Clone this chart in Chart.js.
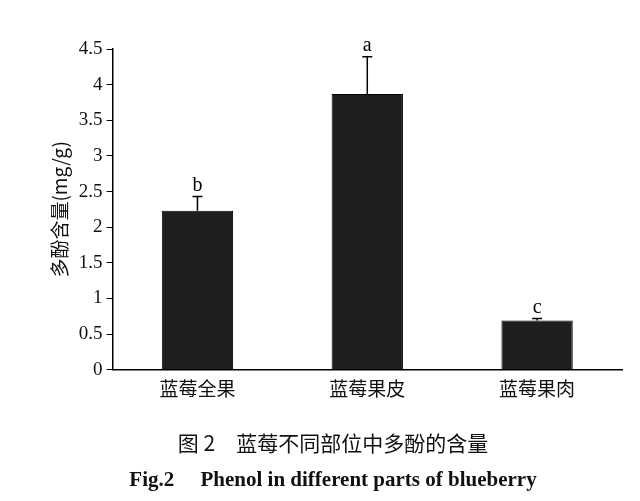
<!DOCTYPE html>
<html><head><meta charset="utf-8">
<script src="https://cdn.jsdelivr.net/npm/chart.js@4"></script>
<style>html,body{margin:0;background:#fff;}#w{width:640px;height:501px;}</style>
</head><body><div id="w"><canvas id="c"></canvas></div>
<script>
const categories=["蓝莓全果","蓝莓果皮","蓝莓果肉"];
const values=[2.23,3.87,0.69];
const errors=[0.2,0.52,0.03];
const letters=["b","a","c"];
const yTicks=[0,0.5,1,1.5,2,2.5,3,3.5,4,4.5];
const errPlugin={id:"err",afterDatasetsDraw(ch){
 const ctx=ch.ctx,y=ch.scales.y,m=ch.getDatasetMeta(0);
 ctx.save();ctx.strokeStyle="#000";ctx.lineWidth=1.5;ctx.fillStyle="#000";
 ctx.font="20px 'Liberation Serif'";ctx.textAlign="center";ctx.textBaseline="bottom";
 m.data.forEach((b,i)=>{const x=b.x,t=y.getPixelForValue(values[i]+errors[i]),bt=y.getPixelForValue(values[i]);
  ctx.beginPath();ctx.moveTo(x,bt);ctx.lineTo(x,t);ctx.moveTo(x-5,t);ctx.lineTo(x+5,t);ctx.stroke();
  ctx.fillText(letters[i],x,t-1);});
 ctx.restore();}};
new Chart(document.getElementById("c"),{type:"bar",
 data:{labels:categories,datasets:[{data:values,backgroundColor:"#1e1e1e",borderColor:"#000",borderWidth:1,barPercentage:0.42,categoryPercentage:1}]},
 options:{responsive:true,maintainAspectRatio:false,animation:false,
  layout:{padding:{left:44,right:18,top:49,bottom:6}},
  plugins:{legend:{display:false},tooltip:{enabled:false},
   title:{display:true,position:"bottom",text:"Fig.2　 Phenol in different parts of blueberry",color:"#111",font:{family:"'Liberation Serif'",size:21},padding:{top:4,bottom:2}},
   subtitle:{display:true,position:"bottom",text:"图 2　蓝莓不同部位中多酚的含量",color:"#111",font:{family:"'Noto Sans CJK SC'",size:21,weight:"normal"},padding:{top:22,bottom:8}}},
  scales:{
   x:{grid:{display:false,drawTicks:false},border:{color:"#000",width:1.5},ticks:{color:"#111",font:{family:"'Noto Sans CJK SC'",size:19},padding:8}},
   y:{min:0,max:4.5,afterBuildTicks(s){s.ticks=yTicks.map(v=>({value:v}));},
    grid:{display:true,drawOnChartArea:false,tickLength:6,color:"#000"},border:{color:"#000",width:1.5},
    ticks:{color:"#111",font:{family:"'Liberation Serif'",size:19},padding:4,callback:v=>String(v)},
    title:{display:true,text:"多酚含量(mg/g)",color:"#111",font:{family:"'Noto Sans CJK SC'",size:19},padding:4}}}},
 plugins:[errPlugin]});
</script></body></html>
